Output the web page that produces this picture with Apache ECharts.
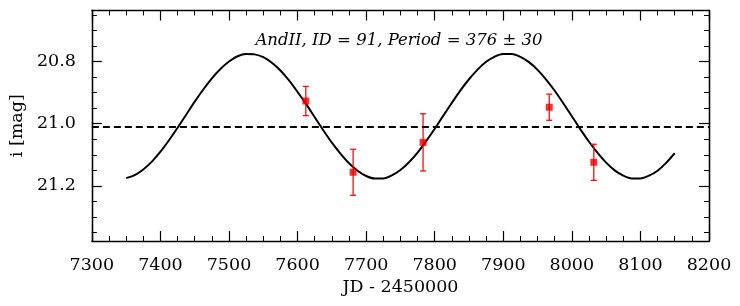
<!DOCTYPE html>
<html>
<head>
<meta charset="utf-8">
<script src="https://cdn.jsdelivr.net/npm/echarts@6/dist/echarts.min.js"></script>
<style>
html,body{margin:0;padding:0;background:#fff;}
#chart{width:740px;height:306px;}
</style>
</head>
<body>
<div id="chart"></div>
<script>
// ---- data ----
const titleText = 'AndII, ID = 91, Period = 376 \u00b1 30';
const xName = 'JD - 2450000';
const yName = 'i [mag]';

const curveJD = [7350,7362.5,7375,7387.5,7400,7412.5,7425,7437.5,7450,7462.5,7475,7487.5,7500,7512.5,7525,7537.5,7550,7562.5,7575,7587.5,7600,7612.5,7625,7637.5,7650,7662.5,7675,7687.5,7700,7712.5,7725,7737.5,7750,7762.5,7775,7787.5,7800,7812.5,7825,7837.5,7850,7862.5,7875,7887.5,7900,7912.5,7925,7937.5,7950,7962.5,7975,7987.5,8000,8012.5,8025,8037.5,8050,8062.5,8075,8087.5,8100,8112.5,8125,8137.5,8150];
const curveMag = [21.175,21.165,21.147,21.122,21.090,21.053,21.013,20.971,20.929,20.890,20.854,20.824,20.800,20.783,20.776,20.777,20.786,20.804,20.829,20.861,20.898,20.937,20.979,21.021,21.061,21.096,21.127,21.151,21.168,21.176,21.176,21.166,21.149,21.124,21.093,21.056,21.016,20.974,20.933,20.893,20.857,20.826,20.801,20.784,20.776,20.776,20.785,20.802,20.827,20.858,20.894,20.934,20.976,21.018,21.058,21.094,21.125,21.150,21.167,21.176,21.176,21.167,21.151,21.126,21.095];

// observations
const obsJD = [7612, 7681, 7783, 7967, 8032];
const obsMag = [20.927, 21.156, 21.060, 20.947, 21.124];
const obsErr = [0.047, 0.074, 0.092, 0.042, 0.058];

// mean magnitude (dashed line)
const meanMag = 21.012;

// axes
const xMin = 7300, xMax = 8200, xStep = 100;
const yMin = 20.636, yMax = 21.377;
const yMajorTicks = [20.8, 21.0, 21.2];
const yMinorTicks = [20.65, 20.7, 20.75, 20.85, 20.9, 20.95, 21.05, 21.1, 21.15, 21.25, 21.3, 21.35];

// ---- chart ----
const FONT = 'DejaVu Serif';
const chart = echarts.init(document.getElementById('chart'), null, {renderer: 'canvas'});

const curveData = curveJD.map((x, i) => [x, curveMag[i]]);
const obsData = obsJD.map((x, i) => [x, obsMag[i], obsErr[i]]);

const baseX = {
  type: 'value', min: xMin, max: xMax, interval: xStep,
  axisLine: {show: true, onZero: false, lineStyle: {color: '#000', width: 1.3}},
  splitLine: {show: false},
};
const baseY = {
  type: 'value', min: yMin, max: yMax, inverse: true,
  axisLine: {show: true, onZero: false, lineStyle: {color: '#000', width: 1.3}},
  splitLine: {show: false},
};

const option = {
  animation: false,
  backgroundColor: '#fff',
  title: {
    text: titleText,
    left: 394, top: 27, textAlign: 'center',
    textStyle: {fontFamily: FONT, fontStyle: 'italic', fontWeight: 'normal', fontSize: 16.5, color: '#000'}
  },
  grid: {left: 88, right: 31, top: 10.5, bottom: 65, containLabel: false},
  xAxis: [
    Object.assign({}, baseX, {
      position: 'bottom',
      name: xName, nameLocation: 'middle', nameGap: 37,
      nameTextStyle: {fontFamily: FONT, fontSize: 17.5, color: '#000'},
      axisTick: {show: true, inside: true, length: 10, lineStyle: {color: '#000', width: 1.2}},
      minorTick: {show: true, splitNumber: 4, length: 5, lineStyle: {color: '#000', width: 1}},
      axisLabel: {show: true, margin: 15, fontFamily: FONT, fontSize: 17.5, color: '#000',
                  formatter: v => String(v)}
    }),
    Object.assign({}, baseX, {
      position: 'top',
      axisTick: {show: true, inside: true, length: 10, lineStyle: {color: '#000', width: 1.2}},
      minorTick: {show: true, splitNumber: 4, length: 5, lineStyle: {color: '#000', width: 1}},
      axisLabel: {show: false}
    })
  ],
  yAxis: [
    Object.assign({}, baseY, {
      position: 'left',
      name: yName, nameLocation: 'middle', nameGap: 60, nameRotate: 90,
      nameTextStyle: {fontFamily: FONT, fontSize: 17.5, color: '#000'},
      axisTick: {show: true, inside: true, length: 10, customValues: yMajorTicks, lineStyle: {color: '#000', width: 1.2}},
      axisLabel: {show: true, margin: 16, customValues: yMajorTicks, fontFamily: FONT, fontSize: 17.5, color: '#000',
                  formatter: v => Number(v).toFixed(1)}
    }),
    Object.assign({}, baseY, {
      position: 'left',
      axisTick: {show: true, inside: true, length: 5, customValues: yMinorTicks, lineStyle: {color: '#000', width: 1}},
      axisLabel: {show: false}
    }),
    Object.assign({}, baseY, {
      position: 'right',
      axisTick: {show: true, inside: true, length: 10, customValues: yMajorTicks, lineStyle: {color: '#000', width: 1.2}},
      axisLabel: {show: false}
    }),
    Object.assign({}, baseY, {
      position: 'right',
      axisTick: {show: true, inside: true, length: 5, customValues: yMinorTicks, lineStyle: {color: '#000', width: 1}},
      axisLabel: {show: false}
    })
  ],
  series: [
    {
      type: 'line', xAxisIndex: 0, yAxisIndex: 0,
      data: curveData, smooth: 0.2, showSymbol: false, symbol: 'none',
      lineStyle: {color: '#000', width: 2},
      markLine: {
        silent: true, symbol: ['none', 'none'], label: {show: false},
        lineStyle: {color: '#000', width: 2, type: [7, 4]},
        data: [{yAxis: meanMag}]
      },
      z: 2
    },
    {
      type: 'custom', xAxisIndex: 0, yAxisIndex: 0,
      data: obsData,
      renderItem: function (params, api) {
        const x = api.value(0), y = api.value(1), e = api.value(2);
        const top = api.coord([x, y - e]);
        const bot = api.coord([x, y + e]);
        const hw = 3;
        const style = {stroke: '#ee1111', lineWidth: 1.3};
        return {
          type: 'group',
          children: [
            {type: 'line', shape: {x1: top[0], y1: top[1], x2: bot[0], y2: bot[1]}, style: style},
            {type: 'line', shape: {x1: top[0] - hw, y1: top[1], x2: top[0] + hw, y2: top[1]}, style: style},
            {type: 'line', shape: {x1: bot[0] - hw, y1: bot[1], x2: bot[0] + hw, y2: bot[1]}, style: style}
          ]
        };
      },
      z: 3
    },
    {
      type: 'scatter', xAxisIndex: 0, yAxisIndex: 0,
      data: obsData.map(d => [d[0], d[1]]),
      symbol: 'rect', symbolSize: 7,
      itemStyle: {color: '#ee0000'},
      z: 4
    }
  ]
};
chart.setOption(option);
</script>
</body>
</html>
